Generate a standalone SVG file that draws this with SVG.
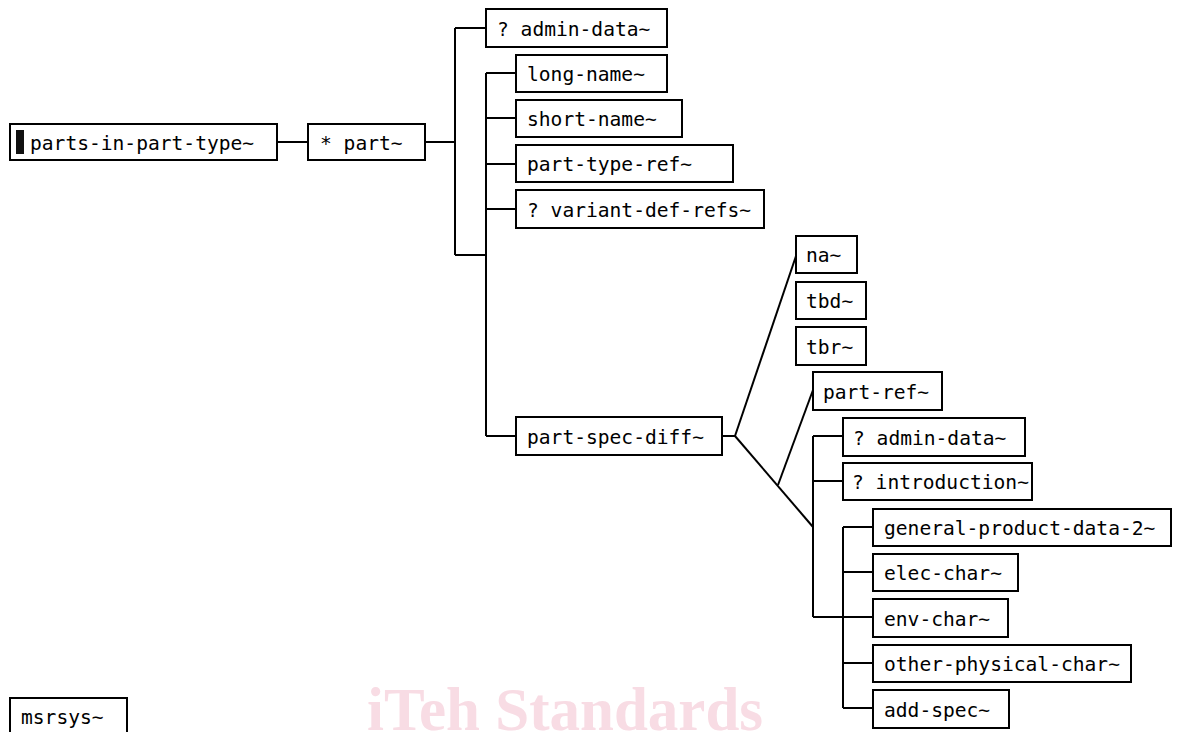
<svg xmlns="http://www.w3.org/2000/svg" width="1177" height="732" viewBox="0 0 1177 732">
  <style>
    .box { fill: #ffffff; stroke: #000000; stroke-width: 2; }
    .lbl { font-family: "DejaVu Sans Mono", "Liberation Mono", monospace; font-size: 19.6px; fill: #000000; }
    .wire { fill: none; stroke: #000000; stroke-width: 2; }
    .mark { font-family: "Liberation Serif", "Times New Roman", serif; font-weight: bold; font-size: 61px; fill: #f8dce4; }
  </style>
  <rect width="1177" height="732" fill="#ffffff"/>

  <!-- background mark -->
  <text class="mark" x="367" y="730">iTeh Standards</text>

  <!-- connectors -->
  <g id="connectors" class="wire">
    <path d="M277 142H308"/>
    <path d="M425 142H455"/>
    <path d="M455 28V255"/>
    <path d="M455 28H486"/>
    <path d="M455 255H486"/>
    <path d="M486 73V436"/>
    <path d="M486 73H516M486 118H516M486 164H516M486 209H516M486 436H516"/>
    <path d="M722 436H735"/>
    <path d="M735 436L796 256"/>
    <path d="M735 436L813 527"/>
    <path d="M778 485L813 390"/>
    <path d="M813 436V617"/>
    <path d="M813 436H843M813 481H843M813 617H873"/>
    <path d="M843 527V708"/>
    <path d="M843 527H873M843 572H873M843 663H873M843 708H873"/>
  </g>

  <g id="parts-in-part-type">
    <rect class="box" x="10" y="124" width="267" height="36"/>
    <rect x="16" y="130" width="8" height="24" fill="#111111"/>
    <text class="lbl" x="30" y="150">parts-in-part-type~</text>
  </g>
  <g id="part">
    <rect class="box" x="308" y="124" width="117" height="36"/>
    <text class="lbl" x="320" y="150">* part~</text>
  </g>
  <g id="admin-data-1">
    <rect class="box" x="486" y="9" width="181" height="38"/>
    <text class="lbl" x="497" y="36">? admin-data~</text>
  </g>
  <g id="long-name">
    <rect class="box" x="516" y="55" width="151" height="37"/>
    <text class="lbl" x="527" y="81">long-name~</text>
  </g>
  <g id="short-name">
    <rect class="box" x="516" y="100" width="166" height="37"/>
    <text class="lbl" x="527" y="126">short-name~</text>
  </g>
  <g id="part-type-ref">
    <rect class="box" x="516" y="145" width="217" height="37"/>
    <text class="lbl" x="527" y="171">part-type-ref~</text>
  </g>
  <g id="variant-def-refs">
    <rect class="box" x="516" y="190" width="248" height="38"/>
    <text class="lbl" x="527" y="217">? variant-def-refs~</text>
  </g>
  <g id="part-spec-diff">
    <rect class="box" x="516" y="417" width="206" height="38"/>
    <text class="lbl" x="527" y="444">part-spec-diff~</text>
  </g>
  <g id="na">
    <rect class="box" x="796" y="236" width="61" height="37"/>
    <text class="lbl" x="806" y="262">na~</text>
  </g>
  <g id="tbd">
    <rect class="box" x="796" y="282" width="70" height="37"/>
    <text class="lbl" x="806" y="308">tbd~</text>
  </g>
  <g id="tbr">
    <rect class="box" x="796" y="327" width="70" height="38"/>
    <text class="lbl" x="806" y="354">tbr~</text>
  </g>
  <g id="part-ref">
    <rect class="box" x="813" y="372" width="129" height="38"/>
    <text class="lbl" x="823" y="399">part-ref~</text>
  </g>
  <g id="admin-data-2">
    <rect class="box" x="843" y="418" width="182" height="38"/>
    <text class="lbl" x="853" y="445">? admin-data~</text>
  </g>
  <g id="introduction">
    <rect class="box" x="843" y="463" width="189" height="37"/>
    <text class="lbl" x="852" y="489">? introduction~</text>
  </g>
  <g id="general-product-data-2">
    <rect class="box" x="873" y="509" width="298" height="37"/>
    <text class="lbl" x="884" y="535">general-product-data-2~</text>
  </g>
  <g id="elec-char">
    <rect class="box" x="873" y="554" width="145" height="37"/>
    <text class="lbl" x="884" y="580">elec-char~</text>
  </g>
  <g id="env-char">
    <rect class="box" x="873" y="599" width="135" height="38"/>
    <text class="lbl" x="884" y="626">env-char~</text>
  </g>
  <g id="other-physical-char">
    <rect class="box" x="873" y="645" width="258" height="37"/>
    <text class="lbl" x="884" y="671">other-physical-char~</text>
  </g>
  <g id="add-spec">
    <rect class="box" x="873" y="690" width="136" height="38"/>
    <text class="lbl" x="884" y="717">add-spec~</text>
  </g>
  <g id="msrsys">
    <rect class="box" x="10" y="698" width="117" height="40"/>
    <text class="lbl" x="21" y="724">msrsys~</text>
  </g>
</svg>
